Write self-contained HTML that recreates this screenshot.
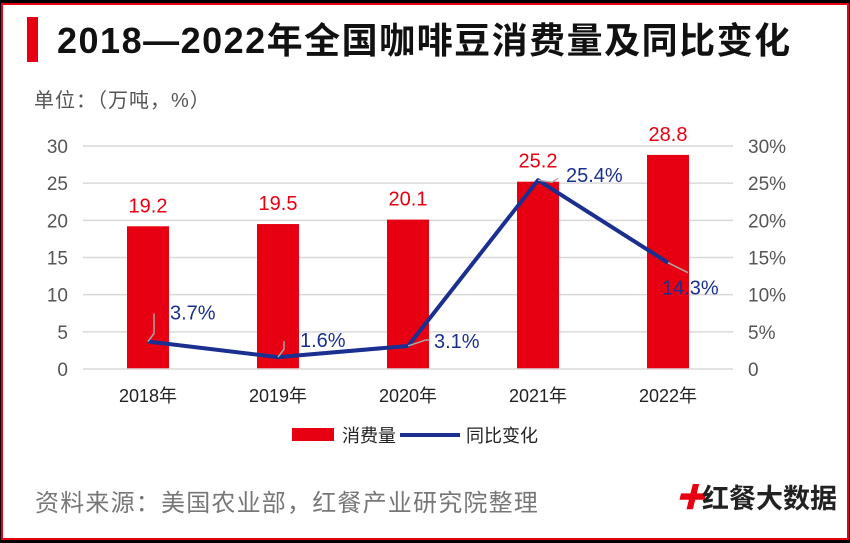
<!DOCTYPE html>
<html><head><meta charset="utf-8"><style>
body{margin:0;background:#000;}
#wrap{position:relative;width:850px;height:543px;background:#000;overflow:hidden;font-family:"Liberation Sans","Noto Sans CJK SC",sans-serif;}
#card{position:absolute;left:1px;top:3px;width:844px;height:533px;background:#fff;border:2px solid #e60012;}
</style></head><body>
<div id="wrap">
<div id="card"></div>
<svg id="svg" width="850" height="543" style="position:absolute;left:0;top:0">
<rect x="27" y="17" width="11" height="45" fill="#e60012"/>
<text x="57" y="53" font-size="36" font-weight="bold" fill="#111" letter-spacing="1.5">2018—2022年全国咖啡豆消费量及同比变化</text>
<text x="34" y="107" font-size="20" fill="#555" letter-spacing="1">单位：（万吨，%）</text>
<text x="35" y="511" font-size="24" fill="#777" letter-spacing="1.2">资料来源：美国农业部，红餐产业研究院整理</text>
<text x="675" y="508" font-size="30" font-weight="bold" fill="#e60012" font-style="italic">✚</text>
<text x="702" y="508" font-size="27" font-weight="bold" fill="#222">红餐大数据</text>
<g id="plot"></g>
</svg>
</div>
<script>
const categories=["2018年","2019年","2020年","2021年","2022年"];
const consumption=[19.2,19.5,20.1,25.2,28.8];
const growth=[3.7,1.6,3.1,25.4,14.3];
const leftTicks=[0,5,10,15,20,25,30];
const rightTicks=["0","5%","10%","15%","20%","25%","30%"];
const NS="http://www.w3.org/2000/svg";
const g=document.getElementById('plot');
const x0=83,x1=733,yB=369,yT=146;
const y=v=>yB-(v/30)*(yB-yT);
const band=(x1-x0)/categories.length;
const xc=i=>x0+band*(i+0.5);
function mk(t,a,p){const e=document.createElementNS(NS,t);for(const k in a)e.setAttribute(k,a[k]);(p||g).appendChild(e);return e;}
leftTicks.forEach((v,i)=>{
 if(v>0){const l=mk('line',{x1:x0,x2:x1,y1:y(v),y2:y(v),stroke:'#d9d9d9','stroke-width':1.5});
 
 }
 const t=mk('text',{x:68,y:y(v)+7,'font-size':19,fill:'#555','text-anchor':'end'});t.textContent=v;
 
 
 const r=mk('text',{x:748,y:y(v)+7,'font-size':19,fill:'#555'});r.textContent=rightTicks[i];
 
 
});
consumption.forEach((v,i)=>{
 const b=mk('rect',{x:xc(i)-21,y:y(v),width:42,height:yB-y(v),fill:'#e60012'});
 
 
 const t=mk('text',{x:xc(i),y:y(v)-14,'font-size':20,fill:'#e60012','text-anchor':'middle'});t.textContent=v.toFixed(1);
 
 
 const c=mk('text',{x:xc(i),y:402,'font-size':18,fill:'#222','text-anchor':'middle'});c.textContent=categories[i];
 
 
});
const axis=mk('line',{x1:x0,x2:x1,y1:yB,y2:yB,stroke:'#d9d9d9','stroke-width':1.5});


const pl=mk('polyline',{points:growth.map((v,i)=>xc(i)+','+y(v)).join(' '),fill:'none',stroke:'#1a2f8f','stroke-width':4,'stroke-linejoin':'round'});


const offs=[[6,-28,'start'],[8,-16,'start'],[26,8,'start'],[24,-2,'start'],[-4,28,'start']];
growth.forEach((v,i)=>{
 const px=xc(i),py=y(v),o=offs[i];
 const lx=px+o[0],ly=py+o[1];
 const ld=mk('polyline',{points:i==4?`${px},${py} ${px+20},${py+10}`:`${px},${py} ${px+6},${py-8} ${px+6},${ly}`,fill:'none',stroke:'#aaa','stroke-width':1.5});
 if(i==2)ld.setAttribute('points',`${px},${py} ${px+18},${py-6} ${px+22},${py-6}`);
 if(i==3)ld.setAttribute('points',`${px},${py} ${px+14},${py+2} ${px+20},${py-2}`);
 
 
 const tx=i==4?px-6:(i==2?px+26:(i==3?px+28:px+22));
 const ty=i==4?py+32:(i==2?py+2:(i==3?py+2:ly+6));
 const t=mk('text',{x:tx,y:ty,'font-size':20,fill:'#1a2f8f'});t.textContent=v.toFixed(1)+'%';
 
 
});
const lg1=mk('rect',{x:292,y:428,width:42,height:13,fill:'#e60012'});


const lt1=mk('text',{x:342,y:442,'font-size':18,fill:'#222'});lt1.textContent='消费量';


const lg2=mk('line',{x1:400,x2:460,y1:435,y2:435,stroke:'#1a2f8f','stroke-width':4});


const lt2=mk('text',{x:466,y:442,'font-size':18,fill:'#222'});lt2.textContent='同比变化';


</script>
</body></html>
